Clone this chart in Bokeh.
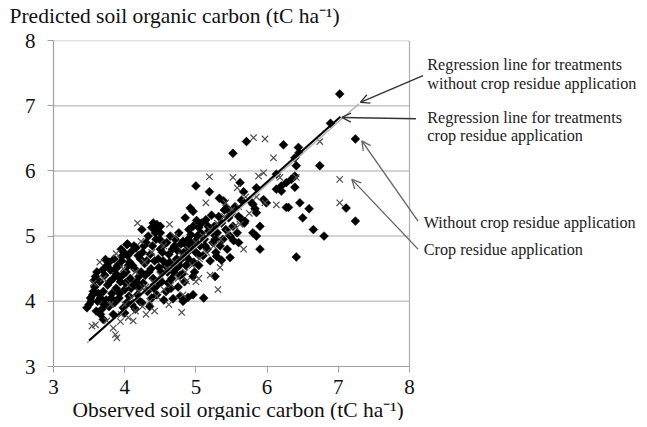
import numpy as np
from bokeh.plotting import figure
from bokeh.models import Range1d, Label, Arrow, OpenHead, FixedTicker, Title
from bokeh.embed import file_html
from bokeh.resources import INLINE

# Without crop residue application (diamonds): observed / predicted SOC (tC/ha)
without_obs = [
    7.02, 6.89, 7.24, 6.23, 6.44, 6.45, 6.41, 6.74, 7.11, 7.24,
    6.46, 6.59, 6.30, 6.50, 6.65, 6.80, 5.90, 5.80, 5.85, 5.90,
    6.41, 6.13, 6.20, 6.27, 6.34, 6.39, 6.39, 5.85, 6.13, 5.80,
    5.83, 5.85, 5.95, 6.39, 5.71, 5.52, 5.62, 5.67, 5.00, 5.19,
    5.33, 5.39, 4.92, 4.96, 5.43, 5.48, 5.76, 5.99, 6.20, 6.27,
    5.64, 5.69, 5.53, 5.60, 5.48, 4.40, 4.45, 4.50, 4.38, 4.44,
    4.24, 4.04, 4.10, 4.85, 5.01, 5.04, 5.11, 4.78, 4.68, 4.89,
    5.29, 5.36, 4.03, 3.73, 3.96, 3.91, 3.61, 3.59, 3.56, 3.52,
    3.47, 3.66, 3.70, 5.27, 4.96, 4.82, 4.96,
    3.50, 3.55, 3.58, 3.62, 3.65, 3.68, 3.70, 3.60, 3.66, 3.72,
    3.74, 3.76, 3.78, 3.80, 3.82, 3.84, 3.86, 3.88, 3.90, 3.78,
    3.84, 3.88, 3.92, 3.94, 3.96, 3.98, 4.00, 4.02, 4.04, 4.06,
    4.08, 4.10, 3.95, 4.05, 4.00, 4.12, 4.14, 4.16, 4.18, 4.20,
    4.22, 4.24, 4.26, 4.28, 4.30, 4.15, 4.25, 4.20, 4.32, 4.34,
    4.36, 4.38, 4.40, 4.42, 4.44, 4.46, 4.48, 4.50, 4.35, 4.45,
    4.50, 4.52, 4.54, 4.56, 4.58, 4.60, 4.62, 4.64, 4.66, 4.68,
    4.70, 4.55, 4.65, 4.72, 4.74, 4.76, 4.78, 4.80, 4.82, 4.84,
    4.86, 4.88, 4.90, 4.75, 4.92, 4.94, 4.96, 4.98, 5.00, 5.02,
    5.04, 5.06, 5.08, 5.10, 5.12, 5.14, 5.16, 5.18, 5.20, 5.22,
    5.24, 5.26, 5.28, 5.30, 5.32, 5.34, 5.36, 5.38, 5.40, 5.42,
    5.44, 5.46, 5.48, 5.50, 5.52, 5.55, 5.58, 5.60, 5.64, 5.68,
    3.53, 3.57, 3.63, 3.69, 3.71, 3.75, 3.79, 3.81, 3.85, 3.87,
    3.91, 3.93, 3.97, 3.99, 4.01, 4.03, 4.07, 4.09, 4.11, 4.13,
    4.17, 4.19, 4.21, 4.23, 4.27, 4.29, 4.31, 4.33, 4.37, 4.39,
    4.41, 4.43, 4.47, 4.49, 4.51, 4.53, 4.57, 4.59, 4.61, 4.63,
    4.67, 4.69, 4.71, 4.73, 4.77, 4.79, 4.81, 4.83, 4.87, 4.89,
    4.91, 4.93, 4.97, 4.99, 5.03, 5.07, 5.13, 5.17, 5.23, 5.27,
]
without_pred = [
    7.18, 6.73, 6.49, 6.40, 6.36, 6.28, 6.08, 6.08, 5.43, 5.23,
    5.51, 5.42, 5.44, 5.28, 5.10, 5.00, 5.15, 5.05, 5.00, 4.80,
    4.68, 5.72, 5.77, 5.82, 5.87, 5.92, 5.75, 5.74, 5.95, 5.49,
    5.42, 5.36, 5.56, 6.20, 6.45, 6.27, 5.82, 5.68, 5.77, 5.68,
    5.58, 5.54, 5.43, 5.38, 5.43, 5.37, 5.54, 5.51, 5.69, 5.44,
    5.26, 5.23, 4.93, 4.90, 4.67, 5.20, 5.18, 5.15, 5.13, 5.09,
    5.10, 4.88, 4.77, 5.28, 5.24, 5.13, 4.05, 4.08, 4.04, 4.06,
    4.69, 4.63, 4.87, 4.64, 4.69, 4.54, 4.45, 4.38, 4.15, 4.05,
    3.90, 3.80, 3.72, 4.38, 4.10, 4.00, 4.38,
    3.95, 4.10, 4.22, 4.00, 4.30, 3.88, 4.15, 3.85, 4.05, 4.40,
    4.02, 4.25, 3.92, 4.48, 4.12, 4.35, 3.98, 4.20, 4.55, 4.60,
    3.80, 4.42, 4.05, 4.30, 4.62, 3.90, 4.18, 4.45, 4.70, 4.08,
    4.35, 3.95, 4.80, 4.55, 3.82, 4.25, 4.50, 4.82, 4.10, 4.38,
    4.65, 3.98, 4.28, 4.58, 4.90, 3.88, 4.75, 4.20, 4.15, 4.45,
    4.72, 4.05, 4.35, 4.62, 4.95, 4.25, 4.52, 4.80, 3.92, 4.10,
    5.05, 4.30, 4.62, 4.88, 4.15, 4.45, 4.72, 5.00, 4.35, 4.58,
    4.85, 4.02, 4.20, 4.50, 4.78, 5.05, 4.40, 4.65, 4.92, 4.30,
    4.55, 4.85, 5.10, 4.22, 4.62, 4.88, 5.15, 4.45, 4.75, 5.00,
    4.55, 4.85, 5.20, 4.70, 4.95, 5.25, 4.80, 5.08, 4.62, 5.32,
    4.90, 5.15, 4.75, 5.05, 5.30, 4.85, 5.20, 4.95, 5.40, 5.10,
    4.80, 5.28, 5.00, 5.35, 5.15, 5.45, 5.05, 5.30, 5.55, 5.20,
    4.00, 4.32, 4.12, 4.48, 3.95, 4.55, 4.30, 4.05, 4.65, 4.50,
    4.38, 4.12, 4.40, 4.75, 4.28, 3.98, 4.60, 4.20, 4.55, 4.85,
    4.30, 4.70, 4.00, 4.45, 4.85, 4.40, 4.62, 5.00, 4.50, 4.85,
    4.20, 5.05, 4.65, 4.95, 4.45, 4.75, 4.55, 4.90, 4.28, 4.60,
    4.80, 4.45, 4.95, 4.65, 4.55, 4.88, 4.42, 4.75, 4.68, 4.95,
    4.78, 5.02, 4.60, 4.92, 4.72, 5.05, 4.85, 5.15, 5.05, 4.95,
]

# Crop residue application (crosses)
residue_obs = [
    5.81, 5.97, 6.74, 6.09, 7.02, 7.02, 5.88, 5.95, 6.18, 6.41,
    5.97, 6.13, 5.19, 5.52, 5.58, 5.14, 5.42, 5.62, 5.67, 4.18,
    4.63, 4.23, 5.31, 5.04, 4.80, 5.34, 3.88, 3.56, 3.54, 3.59,
    3.87, 3.89, 3.84, 3.94, 4.87,
    3.95, 4.00, 4.05, 4.10, 4.15, 4.20, 4.25, 4.30, 4.35, 4.40,
    4.45, 4.50, 4.55, 4.60, 4.65, 4.70, 4.75, 4.80, 4.85, 4.90,
    4.95, 5.00, 5.05, 5.10, 5.15, 5.20, 5.25, 5.30, 5.35, 5.40,
    5.45, 5.50, 5.55, 5.60, 4.05, 4.15, 4.28, 4.38, 4.55, 4.70,
    3.75, 3.80, 3.70, 3.65, 3.98, 4.42, 4.62, 4.82, 5.00, 5.20,
    4.12, 4.30, 5.70, 5.75, 5.85,
]
residue_pred = [
    6.51, 6.49, 6.45, 6.20, 5.87, 5.51, 5.92, 5.97, 5.90, 5.90,
    5.51, 5.48, 5.91, 5.90, 5.74, 5.51, 5.51, 5.18, 4.80, 5.20,
    5.18, 4.92, 4.18, 4.35, 3.83, 4.52, 4.73, 4.28, 3.62, 3.64,
    3.49, 3.44, 3.59, 3.69, 4.31,
    3.80, 3.95, 3.75, 4.05, 3.85, 4.15, 3.92, 4.22, 4.00, 4.30,
    4.08, 4.40, 4.18, 4.50, 4.25, 4.60, 4.35, 4.70, 4.45, 4.80,
    4.55, 4.90, 4.65, 5.00, 4.75, 5.10, 4.85, 5.20, 4.95, 5.30,
    5.05, 5.40, 5.15, 5.45, 4.25, 4.45, 4.60, 4.75, 4.85, 5.00,
    3.70, 3.95, 4.35, 4.60, 4.50, 3.85, 3.95, 4.10, 4.30, 4.40,
    3.70, 3.80, 5.60, 5.35, 5.60,
]

# Regression line end points
reg_without_x = [3.47, 7.29]
reg_without_y = [3.36, 7.03]
reg_residue_x = [3.50, 7.03]
reg_residue_y = [3.40, 6.83]

ticks = [3, 4, 5, 6, 7, 8]
FONT = "Liberation Serif"
X_MIN, X_MAX, Y_MIN, Y_MAX = 3, 8, 3, 8

FW = 594            # frame extends to the right edge so the notes can be drawn
PX_PER_UNIT = 71.2
p = figure(frame_width=FW, frame_height=326,
           x_range=Range1d(X_MIN, X_MIN + FW / PX_PER_UNIT), y_range=Range1d(Y_MIN, Y_MAX),
           output_backend="svg", toolbar_location=None,
           min_border_left=53, min_border_top=40, min_border_right=0,
           min_border_bottom=0)
p.background_fill_color = "white"
p.border_fill_color = "white"
p.outline_line_color = None
p.xgrid.visible = False
p.ygrid.visible = False

# horizontal gridlines and right border restricted to the plot box
p.segment(x0=X_MIN, x1=X_MAX, y0=ticks[1:], y1=ticks[1:], line_color="#c6c6c6", line_width=1.5)
p.segment(x0=X_MAX, x1=X_MAX, y0=Y_MIN, y1=Y_MAX, line_color="#b0b0b0", line_width=1.2)

for ax in (p.xaxis[0], p.yaxis[0]):
    ax.ticker = FixedTicker(ticks=ticks)
    ax.bounds = (3, 8)
    ax.axis_line_color = "#a0a0a0"
    ax.axis_line_width = 1.2
    ax.major_tick_line_color = "#a0a0a0"
    ax.major_tick_in = 0
    ax.major_tick_out = 6
    ax.minor_tick_line_color = None
    ax.major_label_text_font = FONT
    ax.major_label_text_font_size = "21px"
    ax.major_label_text_color = "#111111"

p.yaxis[0].major_label_standoff = 12
p.xaxis[0].major_label_standoff = 7

# top title (outermost) with a small spacer next to the plot box
p.title.text = "Predicted soil organic carbon (tC ha\u207b\u00b9)"
p.title.align = "left"
p.title.offset = -44
p.title.text_font = FONT
p.title.text_font_style = "normal"
p.title.text_font_size = "21.5px"
p.title.text_color = "#111111"
p.title.standoff = 0

p.add_layout(Title(text=" ", text_font_size="8px", standoff=2), "above")

p.add_layout(Title(text="Observed soil organic carbon (tC ha\u207b\u00b9)", align="left", offset=19,
                   text_font=FONT, text_font_style="normal", text_font_size="21.5px",
                   text_color="#111111", standoff=-2), "below")

p.scatter(without_obs, without_pred, marker="square", angle=np.pi / 4,
          size=6.3, fill_color="black", line_color="black", line_width=0.5)
p.scatter(residue_obs, residue_pred, marker="x", size=9,
          line_color="#505050", line_width=1.2)

p.line(reg_without_x, reg_without_y, line_color="#b0b0b0", line_width=1.5)
p.line(reg_residue_x, reg_residue_y, line_color="black", line_width=2)

# Annotations
ann = [
    (8.25, 7.62, "Regression line for treatments"),
    (8.25, 7.34, "without crop residue application"),
    (8.25, 6.81, "Regression line for treatments"),
    (8.25, 6.54, "crop residue application"),
    (8.20, 5.20, "Without crop residue application"),
    (8.20, 4.79, "Crop residue application"),
]
for x, y, t in ann:
    p.add_layout(Label(x=x, y=y, text=t, text_font=FONT, text_font_size="16.2px",
                       text_color="#222222", text_baseline="middle", text_align="left"))

arrows = [
    (8.19, 7.46, 7.31, 7.05, "#333333"),
    (8.09, 6.80, 7.05, 6.82, "#333333"),
    (8.12, 5.23, 7.33, 6.46, "#666666"),
    (8.12, 4.80, 7.19, 5.87, "#666666"),
]
for xs, ys, xe, ye, c in arrows:
    p.add_layout(Arrow(end=OpenHead(size=9, line_color=c, line_width=1.3),
                       x_start=xs, y_start=ys, x_end=xe, y_end=ye,
                       line_color=c, line_width=1.4))

open("out.html", "w").write(file_html(p, INLINE))
